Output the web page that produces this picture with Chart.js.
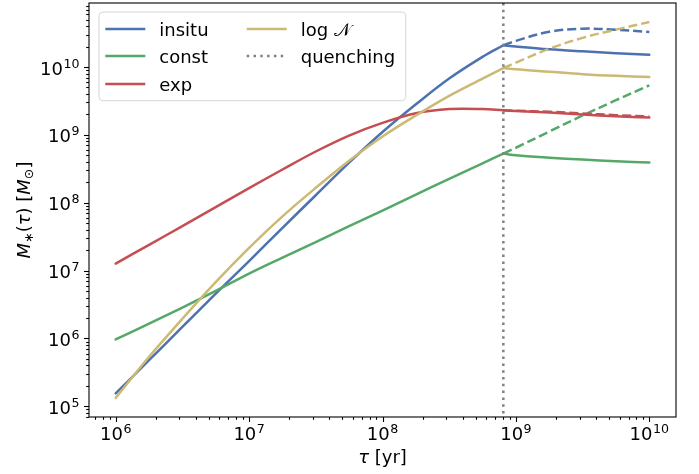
<!DOCTYPE html>
<html><head><meta charset="utf-8">
<script src="https://cdn.jsdelivr.net/npm/chart.js@4/dist/chart.umd.min.js"></script>
<style>html,body{margin:0;padding:0;background:#fff}canvas{display:block}</style>
</head><body>
<canvas id="c" width="699" height="474"></canvas>
<script>
// ---- data ----
const tauPre  = [1e6, 1.78e6, 3.16e6, 5.62e6, 1e7, 1.78e7, 3.16e7, 5.62e7, 1e8, 1.78e8, 3.16e8, 5.62e8, 8.05e8];
const tauPost = [8.05e8, 1e9, 1.78e9, 3.16e9, 5.62e9, 1e10];
const quenchTau = 8.05e8;

const insituPre   = [1.55e5, 4.8e5, 1.48e6, 4.57e6, 1.38e7, 4.27e7, 1.29e8, 3.89e8, 1.1e9, 2.82e9, 6.76e9, 1.41e10, 2.09e10];
const insituPost  = [2.09e10, 2.0e10, 1.82e10, 1.7e10, 1.6e10, 1.52e10];
const insituNoQ   = [2.09e10, 2.43e10, 3.31e10, 3.67e10, 3.55e10, 3.27e10];

const constPre    = [9.66e5, 1.66e6, 2.85e6, 5.01e6, 9.02e6, 1.55e7, 2.63e7, 4.52e7, 7.67e7, 1.32e8, 2.24e8, 3.8e8, 5.31e8];
const constPost   = [5.31e8, 5.01e8, 4.62e8, 4.32e8, 4.07e8, 3.91e8];
const constNoQ    = [5.31e8, 6.46e8, 1.12e9, 1.93e9, 3.24e9, 5.37e9];

const expPre      = [1.27e7, 2.4e7, 4.52e7, 8.61e7, 1.64e8, 3.09e8, 5.69e8, 9.77e8, 1.5e9, 2.08e9, 2.4e9, 2.4e9, 2.3e9];
const expPost     = [2.3e9, 2.25e9, 2.14e9, 2.0e9, 1.88e9, 1.8e9];
const expNoQ      = [2.3e9, 2.26e9, 2.19e9, 2.07e9, 1.95e9, 1.86e9];

const lognPre     = [1.33e5, 5.37e5, 1.95e6, 6.76e6, 2.16e7, 6.31e7, 1.66e8, 4.17e8, 9.44e8, 1.93e9, 3.76e9, 6.76e9, 9.66e9];
const lognPost    = [9.66e9, 9.23e9, 8.51e9, 7.85e9, 7.41e9, 7.13e9];
const lognNoQ     = [9.66e9, 1.16e10, 1.86e10, 2.69e10, 3.55e10, 4.6e10];

const xTickExps = [6, 7, 8, 9, 10];
const yTickExps = [5, 6, 7, 8, 9, 10];
const legendNames = ['insitu', 'const', 'exp', 'log', 'quenching'];

// ---- style ----
const BLUE = '#4C72B0', GREEN = '#55A868', RED = '#C44E52', GOLD = '#CCB974', GREY = '#808080';
const LW = 2.5;
const DASH = [9.2, 4.0];
const DOT = [2.5, 4.3];
const FONT = '"DejaVu Sans", sans-serif';
const FS = 18;

const pts = (xs, ys) => xs.map((x, i) => ({x: x, y: ys[i]}));
function ds(xs, ys, color, dash) {
  return {data: pts(xs, ys), borderColor: color, borderWidth: LW, borderDash: dash || [],
    pointRadius: 0, pointHoverRadius: 0, fill: false, tension: 0.35,
    borderCapStyle: dash ? 'butt' : 'round', borderJoinStyle: 'round'};
}
// index 0 drawn on top
const datasets = [
  ds(tauPost, lognNoQ, GOLD, DASH), ds(tauPost, lognPost, GOLD), ds(tauPre, lognPre, GOLD),
  ds(tauPost, expNoQ, RED, DASH), ds(tauPost, expPost, RED), ds(tauPre, expPre, RED),
  ds(tauPost, constNoQ, GREEN, DASH), ds(tauPost, constPost, GREEN), ds(tauPre, constPre, GREEN),
  ds(tauPost, insituNoQ, BLUE, DASH), ds(tauPost, insituPost, BLUE), ds(tauPre, insituPre, BLUE)
];

function drawPow(ctx, e, x, y, align) {
  const big = FS + 'px ' + FONT, small = (FS * 0.7).toFixed(1) + 'px ' + FONT;
  ctx.font = big; const w1 = ctx.measureText('10').width;
  ctx.font = small; const w2 = ctx.measureText(String(e)).width;
  const w = w1 + w2 + 0.5;
  let x0 = align === 'right' ? x - w : x - w / 2;
  ctx.textAlign = 'left'; ctx.textBaseline = 'alphabetic';
  ctx.font = big; ctx.fillText('10', x0, y);
  ctx.font = small; ctx.fillText(String(e), x0 + w1 + 0.5, y - 7);
}

function drawRuns(ctx, runs, cx, y) {
  let total = 0;
  runs.forEach(r => { ctx.font = r[1]; r.w = ctx.measureText(r[0]).width; total += r.w; });
  let x = cx - total / 2;
  ctx.textAlign = 'left'; ctx.textBaseline = 'alphabetic';
  runs.forEach(r => { ctx.font = r[1]; ctx.fillText(r[0], x, y + (r[2] || 0)); x += r.w; });
}

const decor = {
  id: 'decor',
  afterDatasetsDraw(chart) {
    const ctx = chart.ctx, a = chart.chartArea, xs = chart.scales.x, ys = chart.scales.y;
    ctx.save();
    const qx = xs.getPixelForValue(quenchTau);
    ctx.strokeStyle = GREY; ctx.lineWidth = LW; ctx.setLineDash(DOT); ctx.lineCap = 'butt';
    ctx.beginPath(); ctx.moveTo(qx, a.top); ctx.lineTo(qx, a.bottom); ctx.stroke();
    ctx.setLineDash([]);
    ctx.strokeStyle = '#000'; ctx.lineWidth = 1.1;
    ctx.strokeRect(a.left, a.top, a.right - a.left, a.bottom - a.top);
    ctx.lineWidth = 1.1; ctx.fillStyle = '#000';
    for (let e = 5; e <= 10; e++) for (let m = 1; m <= 9; m++) {
      const v = m * Math.pow(10, e);
      if (v >= xs.min && v <= xs.max) {
        const p = Math.round(xs.getPixelForValue(v)) + 0.5, L = m === 1 ? 5 : 2.8;
        ctx.beginPath(); ctx.moveTo(p, a.bottom); ctx.lineTo(p, a.bottom + L); ctx.stroke();
      }
    }
    for (let e = 4; e <= 10; e++) for (let m = 1; m <= 9; m++) {
      const v = m * Math.pow(10, e);
      if (v >= ys.min && v <= ys.max) {
        const p = Math.round(ys.getPixelForValue(v)) + 0.5, L = m === 1 ? 5 : 2.8;
        ctx.beginPath(); ctx.moveTo(a.left, p); ctx.lineTo(a.left - L, p); ctx.stroke();
      }
    }
    ctx.fillStyle = '#000';
    xTickExps.forEach(e => drawPow(ctx, e, xs.getPixelForValue(Math.pow(10, e)), 440, 'center'));
    yTickExps.forEach(e => drawPow(ctx, e, 79.5, ys.getPixelForValue(Math.pow(10, e)) + 7.5, 'right'));
    const reg = FS + 'px ' + FONT, ita = 'italic ' + FS + 'px ' + FONT, sub = (FS * 0.7).toFixed(1) + 'px ' + FONT;
    drawRuns(ctx, [['\u03C4', ita], [' [yr]', reg]], (a.left + a.right) / 2, 463);
    ctx.save();
    ctx.translate(30, (a.top + a.bottom) / 2); ctx.rotate(-Math.PI / 2);
    drawRuns(ctx, [['M', ita], ['\u2217', sub, 3], ['(', reg], ['\u03C4', ita], [')', reg], [' [', reg], ['M', ita], ['\u2299', sub, 3], [']', reg]], 0, 0);
    ctx.restore();
    const bx = 99, by = 12, bw = 306.7, bh = 88.7, r = 4;
    ctx.beginPath();
    ctx.moveTo(bx + r, by); ctx.lineTo(bx + bw - r, by); ctx.quadraticCurveTo(bx + bw, by, bx + bw, by + r);
    ctx.lineTo(bx + bw, by + bh - r); ctx.quadraticCurveTo(bx + bw, by + bh, bx + bw - r, by + bh);
    ctx.lineTo(bx + r, by + bh); ctx.quadraticCurveTo(bx, by + bh, bx, by + bh - r);
    ctx.lineTo(bx, by + r); ctx.quadraticCurveTo(bx, by, bx + r, by); ctx.closePath();
    ctx.fillStyle = 'rgba(255,255,255,0.8)'; ctx.fill();
    ctx.strokeStyle = '#d6d6d6'; ctx.lineWidth = 1; ctx.stroke();
    const items = [
      [105.3, 29, legendNames[0], BLUE, null], [105.3, 56, legendNames[1], GREEN, null], [105.3, 84, legendNames[2], RED, null],
      [246.7, 29, legendNames[3], GOLD, null], [246.7, 56, legendNames[4], GREY, DOT]
    ];
    items.forEach(it => {
      ctx.strokeStyle = it[3]; ctx.lineWidth = LW; ctx.setLineDash(it[4] || []); ctx.lineCap = 'butt';
      ctx.beginPath(); ctx.moveTo(it[0], it[1]); ctx.lineTo(it[0] + 40, it[1]); ctx.stroke();
      ctx.setLineDash([]);
      ctx.fillStyle = '#000'; ctx.font = reg; ctx.textAlign = 'left'; ctx.textBaseline = 'alphabetic';
      const tx = it[0] + 54;
      ctx.fillText(it[2], tx, it[1] + 6.5);
      if (it[2] === 'log') {
        const w = ctx.measureText('log ').width;
        ctx.fillText('\uD835\uDCA9', tx + w, it[1] + 6.5);
      }
    });
    ctx.restore();
  }
};

new Chart(document.getElementById('c'), {
  type: 'line',
  data: {datasets: datasets},
  options: {
    responsive: false, animation: false, devicePixelRatio: 1,
    layout: {padding: {left: 89, right: 23, top: 3, bottom: 57}},
    plugins: {legend: {display: false}, tooltip: {enabled: false}},
    scales: {
      x: {type: 'logarithmic', min: Math.pow(10, 5.8), max: Math.pow(10, 10.2), display: false},
      y: {type: 'logarithmic', min: Math.pow(10, 4.843), max: Math.pow(10, 10.943), display: false}
    }
  },
  plugins: [decor]
});
</script>
</body></html>
